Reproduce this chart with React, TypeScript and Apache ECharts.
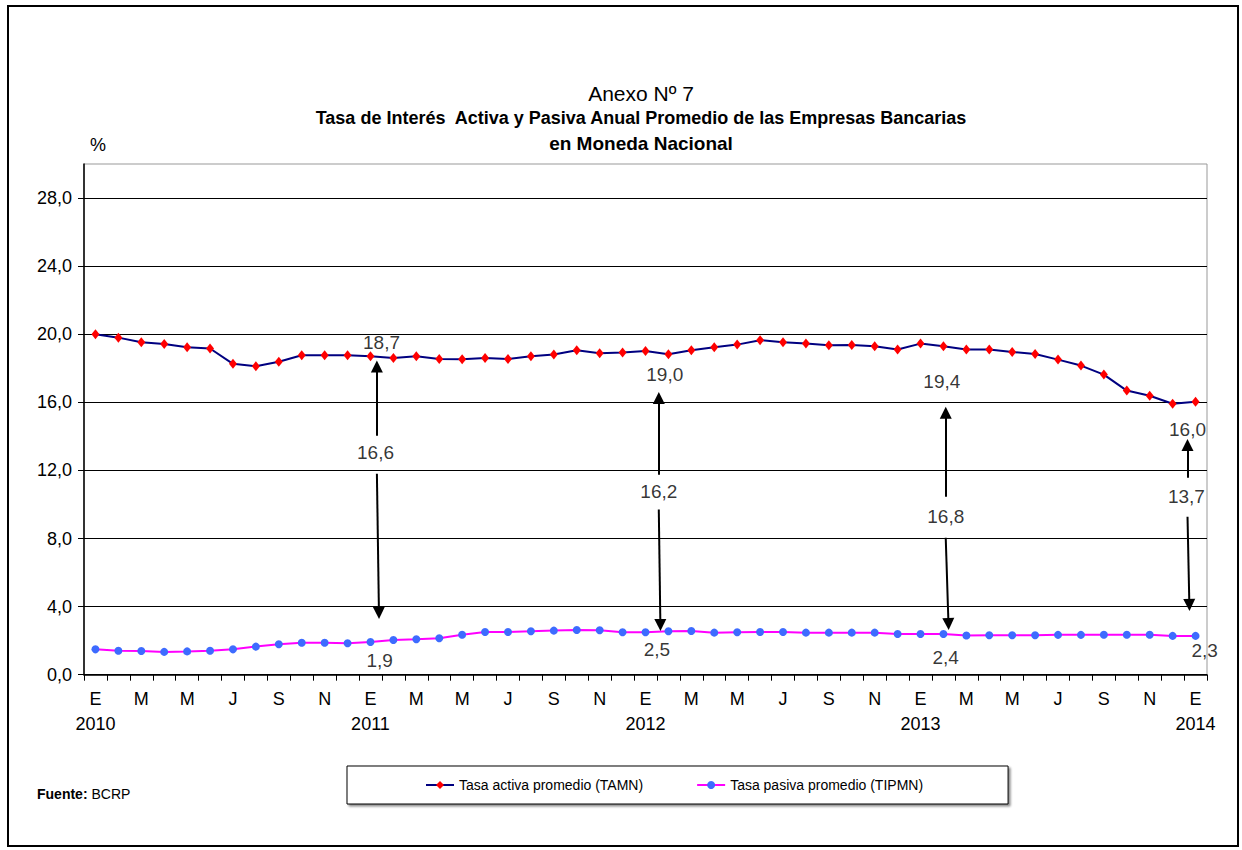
import React, { useEffect, useRef } from "react";
import * as echarts from "echarts";

const FONT = "'Liberation Sans', Arial, sans-serif";

const startYear = 2010;
const monthLetters = ["E", "F", "M", "A", "M", "J", "J", "A", "S", "O", "N", "D"];
const monthCount = 49;

const seriesNames = ["Tasa activa promedio (TAMN)", "Tasa pasiva promedio (TIPMN)"];

const tasaActiva = [
  20.0, 19.8, 19.53, 19.43, 19.24, 19.16, 18.26, 18.12, 18.38, 18.77, 18.77, 18.77,
  18.71, 18.61, 18.71, 18.55, 18.53, 18.61, 18.55, 18.71, 18.81, 19.06, 18.88, 18.92,
  19.02, 18.82, 19.06, 19.24, 19.39, 19.65, 19.53, 19.45, 19.35, 19.37, 19.3, 19.1,
  19.45, 19.3, 19.1, 19.1, 18.96, 18.84, 18.51, 18.16, 17.63, 16.69, 16.39, 15.92,
  16.04,
];

const tasaPasiva = [
  1.49, 1.41, 1.39, 1.34, 1.37, 1.41, 1.49, 1.65, 1.79, 1.88, 1.88, 1.85,
  1.92, 2.04, 2.08, 2.14, 2.35, 2.51, 2.51, 2.55, 2.59, 2.63, 2.61, 2.49,
  2.49, 2.55, 2.57, 2.47, 2.49, 2.51, 2.51, 2.47, 2.47, 2.47, 2.47, 2.39,
  2.39, 2.39, 2.3, 2.32, 2.32, 2.32, 2.34, 2.34, 2.35, 2.35, 2.35, 2.28,
  2.28,
];

const yTicks = { min: 0, max: 30, interval: 4 };

// annotation texts (position in month units along the axis, value in %)
const noteTexts = ["18,7", "19,0", "19,4", "16,0", "1,9", "2,5", "2,4", "2,3", "16,6", "16,2", "16,8", "13,7"];
const noteX = [12.98, 25.34, 37.43, 48.15, 12.9, 25.0, 37.6, 48.9, 12.72, 25.08, 37.6, 48.1];
const noteY = [19.5, 17.63, 17.2, 14.4, 0.86, 1.49, 1.0, 1.41, 13.04, 10.74, 9.28, 10.45];

// arrows: [x start, y start, x end, y end]
const arrowFromX = [12.78, 12.78, 25.08, 25.08, 37.6, 37.6, 48.15, 48.15];
const arrowFromY = [14.04, 11.8, 11.75, 9.7, 10.45, 8.04, 11.57, 9.28];
const arrowToX = [12.78, 12.87, 25.08, 25.15, 37.6, 37.72, 48.15, 48.23];
const arrowToY = [18.1, 3.63, 16.26, 2.92, 15.39, 2.98, 13.5, 4.1];

const categories: string[] = [];
for (let i = 0; i < monthCount; i++) {
  const m = i % 12;
  const y = startYear + Math.floor(i / 12);
  categories.push(m === 0 ? `${monthLetters[m]}\n${y}` : monthLetters[m]);
}

const fmt = (v: number) => v.toFixed(1).replace(".", ",");

export default function App() {
  const ref = useRef<HTMLDivElement>(null);
  useEffect(() => {
    document.body.style.margin = "0";
    if (!ref.current) return;
    const chart = echarts.init(ref.current, undefined, { renderer: "svg" });
    const option: any = {
      animation: false,
      backgroundColor: "#fff",
      textStyle: { fontFamily: FONT },
      grid: {
        left: 84,
        right: 35,
        top: 164,
        bottom: 175.3,
        show: true,
        borderColor: "#999",
        borderWidth: 1,
        backgroundColor: "#fff",
      },
      graphic: [
        { type: "rect", shape: { x: 8, y: 6, width: 1230, height: 840 }, style: { fill: "none", stroke: "#000", lineWidth: 2 } },
        { type: "text", x: 641, y: 93, style: { text: "Anexo Nº 7", font: `21px ${FONT}`, fill: "#000", align: "center", verticalAlign: "middle" } },
        { type: "text", x: 641, y: 118, style: { text: "Tasa de Interés  Activa y Pasiva Anual Promedio de las Empresas Bancarias", font: `bold 18px ${FONT}`, fill: "#000", align: "center", verticalAlign: "middle" } },
        { type: "text", x: 641, y: 143, style: { text: "en Moneda Nacional", font: `bold 19px ${FONT}`, fill: "#000", align: "center", verticalAlign: "middle" } },
        { type: "text", x: 98, y: 145, style: { text: "%", font: `18px ${FONT}`, fill: "#000", align: "center", verticalAlign: "middle" } },
        {
          type: "text", x: 37, y: 794,
          style: {
            text: "{b|Fuente:} BCRP", font: `14px ${FONT}`, fill: "#000", align: "left", verticalAlign: "middle",
            rich: { b: { fontWeight: "bold", fontSize: 14, fontFamily: FONT } },
          },
        },
      ],
      legend: {
        data: seriesNames,
        left: 347,
        top: 766,
        padding: [12, 85, 12, 78],
        itemGap: 53,
        itemWidth: 28,
        itemHeight: 10,
        borderColor: "#000",
        borderWidth: 1,
        backgroundColor: "#fff",
        shadowColor: "rgba(0,0,0,0.45)",
        shadowOffsetX: 2,
        shadowOffsetY: 2,
        shadowBlur: 2,
        textStyle: { fontFamily: FONT, fontSize: 14, color: "#000" },
      },
      xAxis: [
        {
          type: "category",
          data: categories,
          boundaryGap: true,
          axisLine: { lineStyle: { color: "#000", width: 1.5 } },
          axisTick: { show: true, interval: 0, length: 6, lineStyle: { color: "#000" } },
          axisLabel: { interval: 1, color: "#000", fontSize: 18, fontFamily: FONT, margin: 12, lineHeight: 25 },
          splitLine: { show: false },
        },
        { type: "value", min: 0, max: monthCount, show: false },
      ],
      yAxis: {
        type: "value",
        min: yTicks.min,
        max: yTicks.max,
        interval: yTicks.interval,
        axisLine: { show: true, lineStyle: { color: "#000", width: 1.5 } },
        axisTick: { show: true, length: 6, lineStyle: { color: "#000" } },
        axisLabel: { color: "#000", fontSize: 18, fontFamily: FONT, margin: 12, showMaxLabel: false, formatter: (v: number) => fmt(v) },
        splitLine: { show: true, showMaxLine: false, lineStyle: { color: "#000", width: 1 } },
      },
      series: [
        {
          name: seriesNames[0],
          type: "line",
          data: tasaActiva,
          symbol: "diamond",
          symbolSize: [8, 10],
          itemStyle: { color: "#ff0000" },
          lineStyle: { color: "#000080", width: 2 },
          z: 3,
        },
        {
          name: seriesNames[1],
          type: "line",
          data: tasaPasiva,
          symbol: "circle",
          symbolSize: 8,
          itemStyle: { color: "#3d6bff" },
          lineStyle: { color: "#ff00ff", width: 2 },
          z: 3,
        },
        {
          type: "lines",
          coordinateSystem: "cartesian2d",
          xAxisIndex: 1,
          yAxisIndex: 0,
          symbol: ["none", "triangle"],
          symbolSize: [1, 12],
          lineStyle: { color: "#000", width: 2, opacity: 1, curveness: 0 },
          silent: true,
          z: 4,
          data: arrowFromX.map((x, i) => ({ coords: [[x, arrowFromY[i]], [arrowToX[i], arrowToY[i]]] })),
        },
        {
          type: "scatter",
          xAxisIndex: 1,
          yAxisIndex: 0,
          symbolSize: 0,
          silent: true,
          z: 5,
          label: { show: true, position: "inside", formatter: "{b}", color: "#000", fontSize: 19, fontFamily: FONT },
          data: noteTexts.map((t, i) => ({ name: t, value: [noteX[i], noteY[i]] })),
        },
      ],
    };
    chart.setOption(option);
    return () => chart.dispose();
  }, []);
  return <div ref={ref} style={{ width: 1242, height: 850 }} />;
}
